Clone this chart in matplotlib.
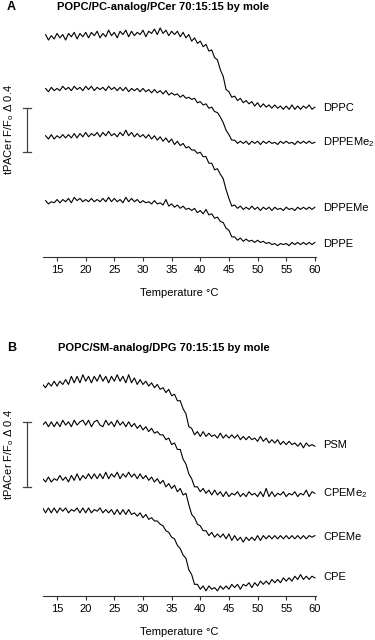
"""Temperature scans of tPACer fluorescence (F/Fo) in two ternary lipid mixtures.

Panel A: POPC/PC-analog/PCer 70:15:15, panel B: POPC/SM-analog/DPG 70:15:15.
Traces are stacked and read off the published figure every 0.5 degC.
"""

import matplotlib
matplotlib.use("Agg")
import matplotlib.pyplot as plt
import numpy as np

TEMP_A = np.arange(13.0, 60.01, 0.5)
TEMP_B = np.arange(12.5, 60.01, 0.5)

# panel A, stacked tPACer F/Fo
DPPC = [
    2.02, 1.97, 2.01, 1.98, 2.03, 1.99, 2.02, 1.97, 2.03, 2.00, 2.04, 1.98, 2.03, 2.00, 2.04,
    1.99, 2.04, 2.01, 2.05, 1.99, 2.03, 2.00, 2.06, 2.01, 2.04, 1.99, 2.05, 2.02, 2.06, 2.00,
    2.05, 2.01, 2.04, 2.02, 2.06, 2.00, 2.05, 2.03, 2.07, 2.02, 2.08, 2.03, 2.06, 2.01, 2.05,
    2.02, 2.05, 2.00, 2.04, 1.99, 2.02, 1.96, 1.99, 1.94, 1.96, 1.91, 1.93, 1.87, 1.88, 1.81,
    1.79, 1.70, 1.64, 1.52, 1.50, 1.45, 1.46, 1.42, 1.44, 1.40, 1.42, 1.39, 1.41, 1.37, 1.40,
    1.36, 1.39, 1.36, 1.38, 1.35, 1.38, 1.35, 1.37, 1.34, 1.37, 1.34, 1.38, 1.34, 1.37, 1.34,
    1.37, 1.35, 1.38, 1.34, 1.36,
]
DPPEME2 = [
    1.53, 1.50, 1.54, 1.51, 1.53, 1.51, 1.55, 1.52, 1.54, 1.51, 1.55, 1.52, 1.54, 1.51, 1.55,
    1.52, 1.55, 1.51, 1.54, 1.52, 1.54, 1.51, 1.55, 1.52, 1.54, 1.51, 1.54, 1.51, 1.54, 1.50,
    1.53, 1.51, 1.53, 1.50, 1.53, 1.50, 1.52, 1.49, 1.52, 1.49, 1.51, 1.48, 1.51, 1.47, 1.49,
    1.47, 1.48, 1.45, 1.47, 1.44, 1.45, 1.43, 1.44, 1.40, 1.41, 1.38, 1.39, 1.35, 1.36, 1.32,
    1.31, 1.27, 1.22, 1.15, 1.11, 1.06, 1.06, 1.03, 1.05, 1.03, 1.05, 1.02, 1.05, 1.03, 1.05,
    1.02, 1.05, 1.03, 1.05, 1.03, 1.04, 1.02, 1.05, 1.03, 1.05, 1.03, 1.04, 1.02, 1.05, 1.03,
    1.05, 1.03, 1.05, 1.03, 1.04,
]
DPPEME = [
    1.10, 1.07, 1.11, 1.07, 1.10, 1.08, 1.11, 1.08, 1.11, 1.08, 1.12, 1.08, 1.12, 1.09, 1.13,
    1.09, 1.12, 1.10, 1.13, 1.09, 1.13, 1.10, 1.14, 1.10, 1.12, 1.09, 1.13, 1.10, 1.15, 1.10,
    1.13, 1.09, 1.12, 1.09, 1.11, 1.08, 1.11, 1.07, 1.10, 1.06, 1.09, 1.05, 1.08, 1.04, 1.07,
    1.02, 1.05, 1.01, 1.03, 0.99, 1.00, 0.97, 0.97, 0.94, 0.95, 0.91, 0.91, 0.85, 0.85, 0.79,
    0.80, 0.75, 0.71, 0.61, 0.53, 0.46, 0.47, 0.44, 0.46, 0.43, 0.45, 0.43, 0.46, 0.43, 0.45,
    0.42, 0.45, 0.43, 0.45, 0.42, 0.45, 0.43, 0.44, 0.42, 0.45, 0.43, 0.44, 0.42, 0.45, 0.43,
    0.45, 0.43, 0.45, 0.43, 0.45,
]
DPPE = [
    0.51, 0.48, 0.50, 0.49, 0.52, 0.49, 0.52, 0.50, 0.53, 0.49, 0.54, 0.51, 0.53, 0.50, 0.52,
    0.50, 0.53, 0.50, 0.52, 0.50, 0.53, 0.50, 0.54, 0.50, 0.53, 0.50, 0.52, 0.49, 0.54, 0.50,
    0.53, 0.50, 0.52, 0.49, 0.51, 0.49, 0.50, 0.48, 0.51, 0.48, 0.49, 0.47, 0.52, 0.46, 0.48,
    0.45, 0.47, 0.44, 0.46, 0.43, 0.44, 0.42, 0.44, 0.40, 0.42, 0.39, 0.43, 0.38, 0.39, 0.35,
    0.36, 0.32, 0.31, 0.26, 0.24, 0.18, 0.18, 0.15, 0.17, 0.14, 0.16, 0.14, 0.15, 0.13, 0.15,
    0.13, 0.14, 0.12, 0.13, 0.11, 0.12, 0.10, 0.12, 0.11, 0.12, 0.10, 0.13, 0.11, 0.13, 0.11,
    0.13, 0.11, 0.13, 0.11, 0.13,
]

# panel B, stacked tPACer F/Fo
PSM = [
    1.30, 1.28, 1.31, 1.29, 1.32, 1.29, 1.32, 1.30, 1.33, 1.30, 1.35, 1.31, 1.35, 1.31, 1.36,
    1.32, 1.35, 1.31, 1.35, 1.32, 1.36, 1.32, 1.35, 1.31, 1.35, 1.32, 1.36, 1.32, 1.35, 1.31,
    1.36, 1.31, 1.34, 1.30, 1.33, 1.30, 1.32, 1.29, 1.31, 1.28, 1.30, 1.27, 1.28, 1.25, 1.27,
    1.23, 1.24, 1.20, 1.20, 1.15, 1.12, 1.04, 1.03, 0.99, 1.01, 0.98, 1.01, 0.98, 1.00, 0.98,
    0.99, 0.97, 1.00, 0.97, 0.99, 0.97, 0.99, 0.97, 0.99, 0.96, 0.98, 0.96, 0.98, 0.96, 0.97,
    0.95, 0.98, 0.95, 0.97, 0.94, 0.96, 0.94, 0.96, 0.93, 0.95, 0.93, 0.95, 0.93, 0.94, 0.92,
    0.94, 0.91, 0.94, 0.92, 0.93, 0.92,
]
CPEME2 = [
    1.05, 1.07, 1.04, 1.07, 1.04, 1.07, 1.04, 1.08, 1.05, 1.07, 1.04, 1.08, 1.05, 1.07, 1.08,
    1.05, 1.08, 1.04, 1.07, 1.08, 1.05, 1.04, 1.08, 1.05, 1.07, 1.04, 1.08, 1.05, 1.07, 1.04,
    1.07, 1.04, 1.06, 1.03, 1.05, 1.02, 1.04, 1.01, 1.03, 1.00, 1.01, 0.99, 0.99, 0.96, 0.97,
    0.93, 0.94, 0.90, 0.90, 0.84, 0.81, 0.75, 0.72, 0.67, 0.67, 0.64, 0.66, 0.63, 0.65, 0.62,
    0.65, 0.62, 0.64, 0.61, 0.64, 0.61, 0.63, 0.62, 0.64, 0.61, 0.63, 0.61, 0.64, 0.62, 0.63,
    0.61, 0.64, 0.61, 0.66, 0.61, 0.64, 0.61, 0.63, 0.62, 0.64, 0.61, 0.63, 0.62, 0.64, 0.61,
    0.63, 0.62, 0.65, 0.61, 0.64, 0.63,
]
CPEME = [
    0.72, 0.70, 0.73, 0.70, 0.72, 0.71, 0.74, 0.71, 0.73, 0.70, 0.74, 0.71, 0.75, 0.71, 0.74,
    0.72, 0.75, 0.72, 0.75, 0.72, 0.75, 0.72, 0.76, 0.72, 0.75, 0.73, 0.76, 0.72, 0.75, 0.73,
    0.76, 0.73, 0.75, 0.72, 0.75, 0.72, 0.74, 0.71, 0.73, 0.70, 0.72, 0.69, 0.71, 0.67, 0.69,
    0.66, 0.68, 0.64, 0.66, 0.62, 0.63, 0.56, 0.50, 0.48, 0.44, 0.43, 0.40, 0.40, 0.37, 0.39,
    0.36, 0.38, 0.36, 0.38, 0.35, 0.38, 0.34, 0.37, 0.34, 0.36, 0.33, 0.36, 0.34, 0.36, 0.34,
    0.37, 0.34, 0.37, 0.35, 0.37, 0.35, 0.37, 0.35, 0.37, 0.35, 0.37, 0.35, 0.37, 0.35, 0.37,
    0.35, 0.37, 0.35, 0.37, 0.36, 0.37,
]
CPE = [
    0.54, 0.51, 0.54, 0.51, 0.54, 0.51, 0.54, 0.52, 0.54, 0.51, 0.53, 0.52, 0.54, 0.51, 0.54,
    0.51, 0.54, 0.51, 0.53, 0.52, 0.54, 0.51, 0.53, 0.51, 0.53, 0.50, 0.53, 0.50, 0.53, 0.50,
    0.53, 0.50, 0.51, 0.49, 0.51, 0.48, 0.50, 0.47, 0.48, 0.46, 0.46, 0.44, 0.43, 0.40, 0.39,
    0.36, 0.35, 0.31, 0.29, 0.25, 0.23, 0.16, 0.13, 0.07, 0.07, 0.04, 0.06, 0.03, 0.06, 0.04,
    0.05, 0.03, 0.06, 0.04, 0.06, 0.04, 0.07, 0.05, 0.07, 0.04, 0.07, 0.06, 0.08, 0.05, 0.08,
    0.06, 0.09, 0.07, 0.09, 0.07, 0.10, 0.08, 0.10, 0.08, 0.11, 0.09, 0.11, 0.09, 0.12, 0.10,
    0.13, 0.10, 0.12, 0.10, 0.12, 0.11,
]

NAMES_A = ["DPPC", "DPPEMe$_\\mathregular{2}$", "DPPEMe", "DPPE"]
NAMES_B = ["PSM", "CPEMe$_\\mathregular{2}$", "CPEMe", "CPE"]
TITLE_A = "POPC/PC-analog/PCer 70:15:15 by mole"
TITLE_B = "POPC/SM-analog/DPG 70:15:15 by mole"
YLABEL = "tPACer F/F$_\\mathregular{o}$ \u0394 0.4"
XTICKS = [15, 20, 25, 30, 35, 40, 45, 50, 55, 60]
SCALE = 0.4

plt.rcParams["font.family"] = ["Liberation Sans", "DejaVu Sans"]
plt.rcParams["mathtext.fontset"] = "custom"
plt.rcParams["mathtext.rm"] = "Liberation Sans"


def draw_panel(ax, temp, traces, names, bar_bottom, ylim):
    for values, name in zip(traces, names):
        ax.plot(temp, values, color="black", lw=0.8)
        ax.text(61.4, np.mean(values[-6:]), name, fontsize=8, va="center",
                ha="left")
    # vertical scale bar, left of the traces
    bar_x = 9.8
    ax.plot([bar_x, bar_x], [bar_bottom, bar_bottom + SCALE], color="#444444",
            lw=0.9, clip_on=False)
    for y in (bar_bottom, bar_bottom + SCALE):
        ax.plot([bar_x - 0.7, bar_x + 0.7], [y, y], color="#444444", lw=0.9,
                clip_on=False)
    ax.set_xlim(12.5, 60.2)
    ax.set_ylim(*ylim)
    ax.set_xticks(XTICKS)
    ax.set_yticks([])
    for side in ("left", "right", "top"):
        ax.spines[side].set_visible(False)
    ax.spines["bottom"].set_linewidth(0.8)
    ax.spines["bottom"].set_color("#333333")
    ax.tick_params(axis="x", labelsize=8, length=3, width=0.8, pad=3,
                   color="#333333")
    ax.set_xlabel("Temperature \u00b0C", fontsize=8, labelpad=9)


def main() -> None:
    fig = plt.figure(figsize=(3.75, 6.4), dpi=100)
    ax_a = fig.add_axes([0.1139, 0.5989, 0.7288, 0.3698])
    ax_b = fig.add_axes([0.1139, 0.0692, 0.7288, 0.3683])

    draw_panel(ax_a, TEMP_A, [DPPC, DPPEME2, DPPEME, DPPE], NAMES_A,
               0.952, (0, 2.152))
    draw_panel(ax_b, TEMP_B, [PSM, CPEME2, CPEME, CPE], NAMES_B,
               0.669, (0, 1.4505))

    fig.text(0.019, 1 - 6.5 / 640, "A", fontsize=9, fontweight="bold",
             va="center", ha="left")
    fig.text(57 / 375, 1 - 6.5 / 640, TITLE_A, fontsize=8, fontweight="bold",
             va="center", ha="left")
    fig.text(0.019, 1 - 348 / 640, "B", fontsize=9, fontweight="bold",
             va="center", ha="left")
    fig.text(58 / 375, 1 - 348 / 640, TITLE_B, fontsize=8, fontweight="bold",
             va="center", ha="left")
    fig.text(9 / 375, 1 - 129 / 640, YLABEL, fontsize=8, rotation=90,
             va="center", ha="center")
    fig.text(9 / 375, 1 - 454 / 640, YLABEL, fontsize=8, rotation=90,
             va="center", ha="center")

    fig.savefig("out.png", dpi=100, facecolor="white")
    plt.close(fig)


if __name__ == "__main__":
    main()
